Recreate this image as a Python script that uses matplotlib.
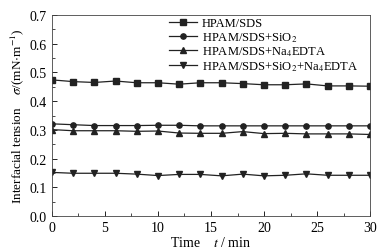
"""Interfacial tension versus time for the four HPAM/SDS systems."""

from matplotlib import pyplot
from matplotlib.ticker import MultipleLocator

# Time values (min) and interfacial tension (mN/m).
time = [0, 2, 4, 6, 8, 10, 12, 14, 16, 18, 20, 22, 24, 26, 28, 30]
ift_sds = [0.474, 0.468, 0.465, 0.470, 0.464, 0.464, 0.459, 0.464,
           0.464, 0.461, 0.457, 0.457, 0.460, 0.453, 0.453, 0.452]
ift_sio2 = [0.321, 0.318, 0.315, 0.315, 0.315, 0.316, 0.316, 0.314,
            0.314, 0.314, 0.314, 0.314, 0.314, 0.314, 0.314, 0.314]
ift_edta = [0.301, 0.297, 0.297, 0.297, 0.295, 0.296, 0.289, 0.288,
            0.288, 0.294, 0.287, 0.288, 0.286, 0.286, 0.286, 0.284]
ift_both = [0.152, 0.149, 0.149, 0.149, 0.146, 0.141, 0.145, 0.145,
            0.140, 0.146, 0.140, 0.142, 0.147, 0.142, 0.142, 0.142]

labels = ['HPAM/SDS',
          r'HPAM/SDS+SiO$_2$',
          r'HPAM/SDS+Na$_4$EDTA',
          r'HPAM/SDS+SiO$_2$+Na$_4$EDTA']

pyplot.rc('font', family='Liberation Serif', size=9)
pyplot.rc('mathtext', fontset='stix')

fig = pyplot.figure(figsize=(3.9, 2.53), dpi=100)
ax = fig.add_axes([0.133, 0.142, 0.816, 0.795])

series = [ift_sds, ift_sio2, ift_edta, ift_both]
markers = ['s', 'o', '^', 'v']
for vals, marker, label in zip(series, markers, labels):
    ax.plot(time, vals, color='#222222', linewidth=0.9, marker=marker,
            markersize=3.8, label=label)

ax.set_xlim(0, 30)
ax.set_ylim(0.0, 0.7)
ax.xaxis.set_major_locator(MultipleLocator(5))
ax.xaxis.set_minor_locator(MultipleLocator(2.5))
ax.yaxis.set_major_locator(MultipleLocator(0.1))
ax.yaxis.set_minor_locator(MultipleLocator(0.05))
ax.yaxis.set_major_formatter('{x:.1f}')
ax.tick_params(which='both', direction='in', top=False, right=False)
ax.tick_params(which='major', length=3.5, width=0.6, labelsize=10)
ax.tick_params(which='minor', length=2, width=0.5)
for spine in ax.spines.values():
    spine.set_linewidth(0.6)
    spine.set_color('#444444')

ax.set_xlabel(r'Time    $t$ / min', fontsize=10, labelpad=1)
ax.set_ylabel(r'Interfacial tension    $\sigma$/(mN$\cdot$m$^{-1}$)',
              fontsize=9.5, labelpad=3)

ax.legend(loc='upper right', frameon=False, fontsize=9, handlelength=2.2,
          handletextpad=0.4, labelspacing=0.05, borderaxespad=0.2,
          bbox_to_anchor=(0.985, 1.025))

fig.savefig('out.png', dpi=100)
